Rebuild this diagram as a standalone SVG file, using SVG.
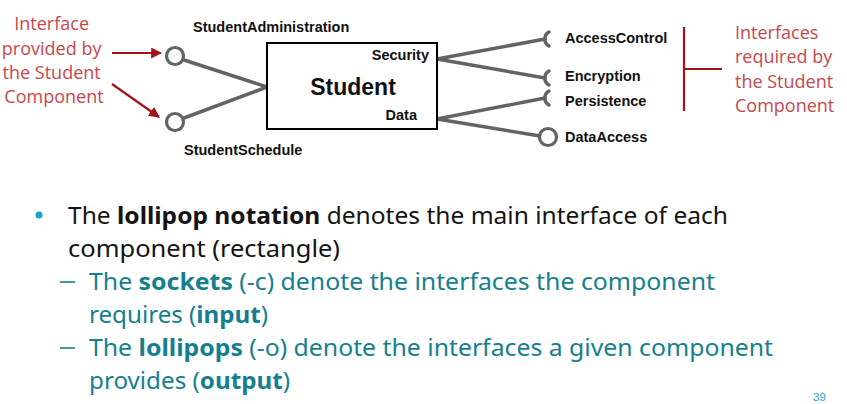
<svg xmlns="http://www.w3.org/2000/svg" width="847" height="404" viewBox="0 0 847 404">
  <defs>
    <style>
      .lbl { font-family: "Liberation Sans", Arial, sans-serif; font-weight: bold; font-size: 14.5px; fill: #111; }
      .wire { stroke: #626463; stroke-width: 3.5; fill: none; stroke-linecap: round; }
      .note { font-family: "Open Sans", "Liberation Sans", sans-serif; font-size: 18px; fill: #c8474c; }
      .pointer { stroke: #a3141a; stroke-width: 2.2; fill: none; }
      .body { font-family: "Noto Sans", "Open Sans", sans-serif; font-size: 24px; }
      .main { fill: #141414; }
      .sub { fill: #14808f; }
      .b { font-weight: bold; }
    </style>
    <marker id="redArrow" viewBox="0 0 10 10" refX="9" refY="5" markerWidth="5" markerHeight="5" orient="auto" markerUnits="strokeWidth">
      <path d="M0,0 L10,5 L0,10 z" fill="#a3141a"/>
    </marker>
  </defs>
  <rect width="847" height="404" fill="#ffffff"/>

  <!-- component and its interfaces -->
  <g id="connectors">
    <line class="wire" x1="184" y1="60" x2="267" y2="87"/>
    <line class="wire" x1="184" y1="118" x2="267" y2="87"/>
    <line class="wire" x1="437" y1="59" x2="545" y2="39"/>
    <line class="wire" x1="437" y1="59" x2="545" y2="78"/>
    <line class="wire" x1="437" y1="119" x2="545" y2="98"/>
    <line class="wire" x1="437" y1="119" x2="540" y2="136"/>
  </g>

  <g id="student">
    <rect x="267" y="43" width="170" height="86" fill="#ffffff" stroke="#000" stroke-width="2"/>
    <text x="353" y="95" text-anchor="middle" font-family="Liberation Sans, Arial, sans-serif" font-weight="bold" font-size="23" fill="#111">Student</text>
    <text class="lbl" x="429" y="60" text-anchor="end" font-size="13.5">Security</text>
    <text class="lbl" x="417" y="120" text-anchor="end" font-size="13.5">Data</text>
  </g>

  <g id="student-administration">
    <circle cx="175" cy="56" r="8.5" fill="#fff" stroke="#626463" stroke-width="3.2"/>
    <text class="lbl" x="193" y="32" font-size="14">StudentAdministration</text>
  </g>
  <g id="student-schedule">
    <circle cx="175" cy="122" r="8.5" fill="#fff" stroke="#626463" stroke-width="3.2"/>
    <text class="lbl" x="184" y="155">StudentSchedule</text>
  </g>

  <g id="access-control">
    <path class="wire" d="M549,32 A8,8 0 0 0 549,46"/>
    <text class="lbl" x="565" y="43">AccessControl</text>
  </g>
  <g id="encryption">
    <path class="wire" d="M549,71 A8,8 0 0 0 549,85"/>
    <text class="lbl" x="565" y="81">Encryption</text>
  </g>
  <g id="persistence">
    <path class="wire" d="M549,91 A8,8 0 0 0 549,105"/>
    <text class="lbl" x="565" y="106">Persistence</text>
  </g>
  <g id="data-access">
    <circle cx="548" cy="137" r="8.5" fill="#fff" stroke="#626463" stroke-width="3.2"/>
    <text class="lbl" x="565" y="142">DataAccess</text>
  </g>

  <!-- annotations -->
  <g id="provided-note">
    <text class="note" text-anchor="middle">
      <tspan x="54" y="30">Interface</tspan>
      <tspan x="54" y="55">provided by</tspan>
      <tspan x="54" y="79">the Student</tspan>
      <tspan x="54" y="103">Component</tspan>
    </text>
    <line class="pointer" x1="112" y1="53" x2="161" y2="53" marker-end="url(#redArrow)"/>
    <line class="pointer" x1="112" y1="84" x2="159" y2="117" marker-end="url(#redArrow)"/>
  </g>
  <g id="required-note">
    <path class="pointer" d="M684,27 V111 M684,69 H722"/>
    <text class="note">
      <tspan x="735" y="39">Interfaces</tspan>
      <tspan x="735" y="63">required by</tspan>
      <tspan x="735" y="88">the Student</tspan>
      <tspan x="735" y="112">Component</tspan>
    </text>
  </g>

  <!-- explanatory bullets -->
  <g id="bullets" class="body">
    <circle cx="39" cy="215" r="3.5" fill="#1ba1d8"/>
    <text class="main" x="68" y="224" textLength="660" lengthAdjust="spacingAndGlyphs">The <tspan class="b">lollipop notation</tspan> denotes the main interface of each</text>
    <text class="main" x="68" y="257" textLength="272" lengthAdjust="spacingAndGlyphs">component (rectangle)</text>
    <line x1="60" y1="282" x2="75" y2="282" stroke="#14808f" stroke-width="1.6"/>
    <text class="sub" x="89" y="290" textLength="626" lengthAdjust="spacingAndGlyphs">The <tspan class="b">sockets</tspan> (-c) denote the interfaces the component</text>
    <text class="sub" x="89" y="323" textLength="179" lengthAdjust="spacingAndGlyphs">requires (<tspan class="b">input</tspan>)</text>
    <line x1="60" y1="348" x2="75" y2="348" stroke="#14808f" stroke-width="1.6"/>
    <text class="sub" x="89" y="356" textLength="684" lengthAdjust="spacingAndGlyphs">The <tspan class="b">lollipops</tspan> (-o) denote the interfaces a given component</text>
    <text class="sub" x="89" y="389" textLength="201" lengthAdjust="spacingAndGlyphs">provides (<tspan class="b">output</tspan>)</text>
  </g>
  <text x="813" y="401" font-family="Liberation Sans, Arial, sans-serif" font-size="11.5" fill="#2aa6dc">39</text>
</svg>
